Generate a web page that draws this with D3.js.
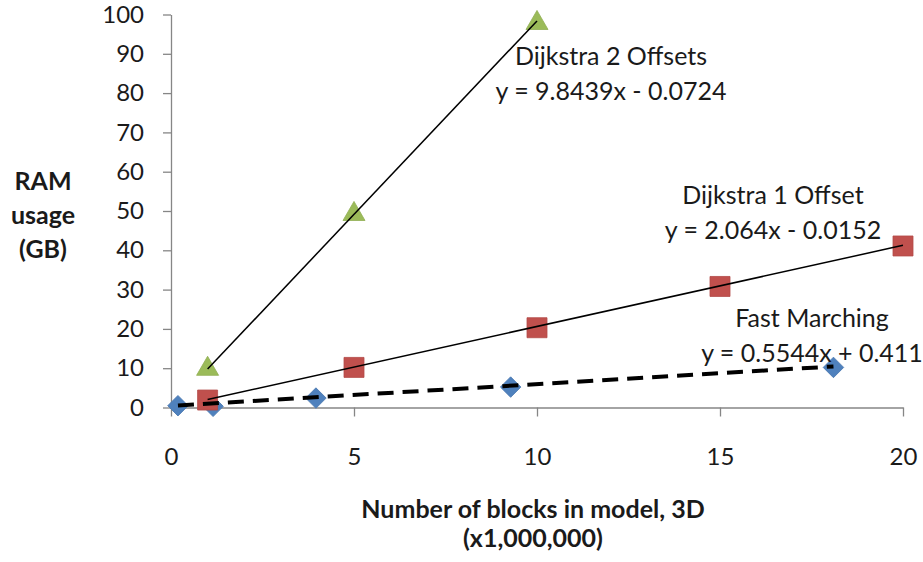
<!DOCTYPE html>
<html>
<head>
<meta charset="utf-8">
<script src="https://cdn.jsdelivr.net/npm/d3@7"></script>
<style>
  html, body { margin: 0; padding: 0; background: #fff; }
  svg text { font-family: Lato, "Open Sans", sans-serif; fill: #1a1a1a; }
</style>
</head>
<body>
<svg id="chart" width="923" height="562"></svg>
<script>
// RAM usage vs. model size for three distance algorithms
const seriesNames = ["Fast Marching", "Dijkstra 1 Offset", "Dijkstra 2 Offsets"];
const fmX = [0.19, 1.15, 3.96, 9.28, 18.1];
const fmY = [0.45, 0.3, 2.4, 5.2, 10.2];
const d1X = [1, 5, 10, 15, 20];
const d1Y = [1.9, 10.2, 20.3, 30.8, 41.1];
const d2X = [1, 5, 10];
const d2Y = [9.8, 49.2, 97.8];
// linear trendline coefficients (y = slope * x + intercept)
const trendSlopes = [0.5544, 2.064, 9.8439];
const trendIntercepts = [0.411, -0.0152, -0.0724];
const trendLabels = ["y = 0.5544x + 0.411", "y = 2.064x - 0.0152", "y = 9.8439x - 0.0724"];
const xTicks = [0, 5, 10, 15, 20];
const yTicks = [0, 10, 20, 30, 40, 50, 60, 70, 80, 90, 100];
const yTitle = ["RAM", "usage", "(GB)"];
const xTitle = ["Number of blocks in model, 3D", "(x1,000,000)"];

const svg = d3.select("#chart");
const x = d3.scaleLinear().domain([0, 20]).range([171, 903]);
const y = d3.scaleLinear().domain([0, 100]).range([407.5, 14.5]);
const axisColor = "#868686";
const fontSize = 25;
const tickFontSize = 24;

// axes
const yAxis = svg.append("g").attr("transform", `translate(${x(0)},0)`)
  .call(d3.axisLeft(y).tickValues(yTicks).tickSize(8).tickPadding(19).tickSizeOuter(0));
const xAxis = svg.append("g").attr("transform", `translate(0,${y(0)})`)
  .call(d3.axisBottom(x).tickValues(xTicks).tickSize(9).tickPadding(31).tickSizeOuter(0));
[yAxis, xAxis].forEach(g => {
  g.select(".domain").attr("stroke", axisColor).attr("stroke-width", 1.3);
  g.selectAll(".tick line").attr("stroke", axisColor).attr("stroke-width", 1.3);
  g.selectAll(".tick text").attr("font-size", tickFontSize).attr("fill", "#1a1a1a")
    .style("font-family", "Lato, 'Open Sans', sans-serif");
});

const series = [
  { xs: fmX, ys: fmY, color: "#4F81BD", shape: d3.symbolSquare, size: 210, rotate: 45, dash: "16,9", width: 4 },
  { xs: d1X, ys: d1Y, color: "#C0504D", shape: d3.symbolSquare, size: 400, rotate: 0, dash: null, width: 1.5 },
  { xs: d2X, ys: d2Y, color: "#9BBB59", shape: d3.symbolTriangle, size: 210, rotate: 0, dash: null, width: 1.5 }
];

// markers
series.forEach(s => {
  svg.append("g").selectAll("path")
    .data(s.xs.map((v, i) => [v, s.ys[i]]))
    .join("path")
    .attr("transform", d => `translate(${x(d[0])},${y(d[1])}) rotate(${s.rotate})`)
    .attr("d", d3.symbol().type(s.shape).size(s.size))
    .attr("fill", s.color)
    .attr("stroke", d3.color(s.color).darker(0.2))
    .attr("stroke-width", 0.8);
});

// trendlines over the markers
series.forEach((s, i) => {
  const x0 = d3.min(s.xs), x1 = d3.max(s.xs);
  const f = v => trendSlopes[i] * v + trendIntercepts[i];
  svg.append("line")
    .attr("x1", x(x0)).attr("y1", y(f(x0)))
    .attr("x2", x(x1)).attr("y2", y(f(x1)))
    .attr("stroke", "#000")
    .attr("stroke-width", s.width)
    .attr("stroke-dasharray", s.dash);
});

// trendline labels
const labelPos = [[812, 327], [773, 204], [611, 65]];
series.forEach((s, i) => {
  const t = svg.append("text").attr("font-size", fontSize).attr("text-anchor", "middle");
  t.append("tspan").attr("x", labelPos[i][0]).attr("y", labelPos[i][1]).text(seriesNames[i]);
  t.append("tspan").attr("x", labelPos[i][0]).attr("y", labelPos[i][1] + 35).text(trendLabels[i]);
});

// axis titles
const yt = svg.append("text").attr("font-size", fontSize).attr("font-weight", "bold").attr("text-anchor", "middle");
yTitle.forEach((line, i) => yt.append("tspan").attr("x", 43).attr("y", 190 + i * 34).text(line));
const xt = svg.append("text").attr("font-size", fontSize).attr("font-weight", "bold").attr("text-anchor", "middle");
xTitle.forEach((line, i) => xt.append("tspan").attr("x", 533).attr("y", 518 + i * 29).text(line));
</script>
</body>
</html>
